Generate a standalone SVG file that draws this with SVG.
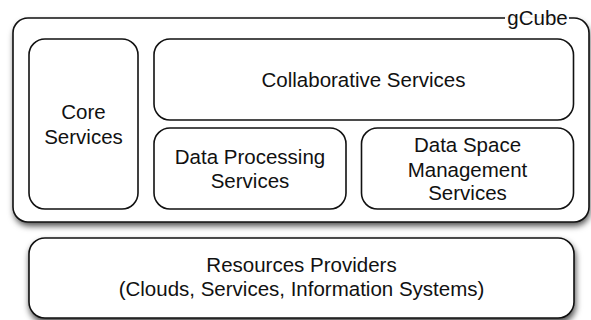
<svg xmlns="http://www.w3.org/2000/svg" width="591" height="320" viewBox="0 0 591 320">
  <defs>
    <filter id="shadow" x="-10%" y="-10%" width="120%" height="130%">
      <feDropShadow dx="1" dy="4" stdDeviation="3.2" flood-color="#000" flood-opacity="0.7"/>
    </filter>
  </defs>
  <style>
    .box { fill: #fff; stroke: #111; stroke-width: 1.6; }
    .fillonly { fill: #fff; stroke: none; }
    .line { fill: none; stroke: #111; stroke-width: 1.6; }
    .lbl { font-family: "Liberation Sans", Arial, Helvetica, sans-serif; font-size: 20.5px; fill: #111; text-anchor: middle; }
  </style>
  <rect width="591" height="320" fill="#fff"/>

  <g id="gcube">
    <rect class="fillonly" x="13" y="18" width="576" height="204" rx="15" ry="15" filter="url(#shadow)"/>
    <path class="line" d="M 505 18 H 28 A 15 15 0 0 0 13 33 V 207 A 15 15 0 0 0 28 222 H 574 A 15 15 0 0 0 589 207 V 33 A 15 15 0 0 0 574 18 H 569"/>
    <text class="lbl" x="537.5" y="25">gCube</text>
  </g>

  <g id="core">
    <rect class="box" x="29" y="39" width="109" height="170" rx="16" ry="16"/>
    <text class="lbl" x="83.5" y="119">Core</text>
    <text class="lbl" x="83.5" y="143.5">Services</text>
  </g>

  <g id="collaborative">
    <rect class="box" x="154" y="39" width="419.5" height="81" rx="16" ry="16"/>
    <text class="lbl" x="363.5" y="86.5">Collaborative Services</text>
  </g>

  <g id="dataprocessing">
    <rect class="box" x="154" y="128" width="192" height="81" rx="16" ry="16"/>
    <text class="lbl" x="250" y="164">Data Processing</text>
    <text class="lbl" x="250" y="188">Services</text>
  </g>

  <g id="dataspace">
    <rect class="box" x="361.5" y="128" width="212" height="81" rx="16" ry="16"/>
    <text class="lbl" x="467.5" y="152">Data Space</text>
    <text class="lbl" x="467.5" y="176.5">Management</text>
    <text class="lbl" x="467.5" y="200">Services</text>
  </g>

  <g id="resources">
    <rect class="box" x="29" y="238" width="545" height="80" rx="16" ry="16" filter="url(#shadow)"/>
    <text class="lbl" x="301.5" y="272">Resources Providers</text>
    <text class="lbl" x="301.5" y="295.5">(Clouds, Services, Information Systems)</text>
  </g>

  <g id="connectors"></g>
</svg>
